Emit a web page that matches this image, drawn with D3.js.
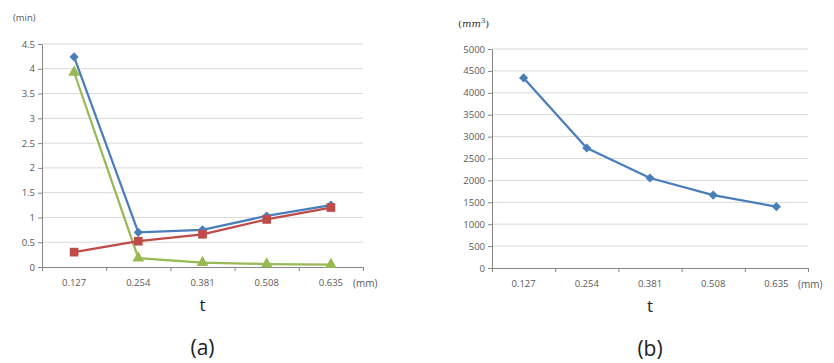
<!DOCTYPE html>
<html>
<head>
<meta charset="utf-8">
<script src="https://cdn.jsdelivr.net/npm/d3@7"></script>
<style>
  body { margin: 0; background: #fff; }
  text { font-family: "Open Sans", sans-serif; }
</style>
</head>
<body>
<div id="chart"></div>
<script>
/* Two Excel-style line charts: (a) time vs t, (b) volume vs t */

const categories = ["0.127", "0.254", "0.381", "0.508", "0.635"];

// chart (a), minutes
const blueA = [4.24, 0.70, 0.75, 1.03, 1.25];
const redA = [0.30, 0.52, 0.66, 0.96, 1.20];
const greenA = [3.93, 0.18, 0.09, 0.06, 0.05];
const ticksA = [0, 0.5, 1, 1.5, 2, 2.5, 3, 3.5, 4, 4.5];

// chart (b), mm^3
const blueB = [4340, 2740, 2055, 1665, 1400];
const ticksB = [0, 500, 1000, 1500, 2000, 2500, 3000, 3500, 4000, 4500, 5000];

const width = 834, height = 363;

const svg = d3.select("#chart")
    .append("svg")
    .attr("width", width)
    .attr("height", height);

function panel(opts) {
    const g = svg.append("g");

    let x = d3.scaleBand()
        .domain(categories)
        .range([opts.left, opts.right]);

    let edge = d3.scaleLinear() // band boundaries for tick marks
        .domain([0, categories.length])
        .range([opts.left, opts.right]);

    let y = d3.scaleLinear()
        .domain([0, d3.max(opts.ticks)])
        .range([opts.bottom, opts.top]);

    // gridlines
    g.append("g")
        .selectAll("line")
        .data(opts.ticks.filter(d => d > 0))
        .join("line")
        .attr("x1", opts.left)
        .attr("x2", opts.right)
        .attr("y1", d => y(d))
        .attr("y2", d => y(d))
        .attr("stroke", "#d9d9d9")
        .attr("stroke-width", 1);

    // y axis
    let ya = g.append("g")
        .attr("transform", `translate(${opts.left},0)`)
        .call(d3.axisLeft(y).tickValues(opts.ticks).tickFormat(d => String(d))
            .tickSize(4).tickSizeOuter(0).tickPadding(3));
    ya.select(".domain").attr("stroke", "#868686");
    ya.selectAll(".tick line").attr("stroke", "#868686");
    ya.selectAll(".tick text").attr("fill", "#595959").style("font-size", "9.5px");

    // x axis tick marks at band edges
    let xe = g.append("g")
        .attr("transform", `translate(0,${opts.bottom})`)
        .call(d3.axisBottom(edge).tickValues(d3.range(categories.length + 1)).tickFormat("").tickSize(4).tickSizeOuter(0));
    xe.select(".domain").attr("stroke", "#868686");
    xe.selectAll(".tick line").attr("stroke", "#868686");

    // x labels
    let xl = g.append("g")
        .attr("transform", `translate(0,${opts.bottom})`)
        .call(d3.axisBottom(x).tickSize(0).tickPadding(12));
    xl.select(".domain").remove();
    xl.selectAll(".tick text").attr("fill", "#595959").style("font-size", "9.5px");

    g.append("text")
        .attr("x", opts.right - 10)
        .attr("y", opts.bottom + 20)
        .attr("fill", "#595959")
        .style("font-size", "10px")
        .text("(mm)");

    const cx = (x(categories[2]) + x.bandwidth() / 2);
    g.append("text")
        .attr("x", cx)
        .attr("y", opts.bottom + 44)
        .attr("text-anchor", "middle")
        .attr("fill", "#222")
        .style("font-size", "17px")
        .text("t");

    g.append("text")
        .attr("x", cx)
        .attr("y", opts.bottom + 88)
        .attr("text-anchor", "middle")
        .attr("fill", "#222")
        .style("font-size", "21px")
        .text(opts.label);

    let line = d3.line()
        .x((d, i) => x(categories[i]) + x.bandwidth() / 2)
        .y(d => y(d));

    for (let s of opts.series) {
        g.append("path")
            .datum(s.values)
            .attr("fill", "none")
            .attr("stroke", s.color)
            .attr("stroke-width", 2.25)
            .attr("d", line);

        g.append("g")
            .selectAll("path")
            .data(s.values)
            .join("path")
            .attr("transform", (d, i) => `translate(${x(categories[i]) + x.bandwidth() / 2},${y(d)}) rotate(${s.rotate || 0})`)
            .attr("d", d3.symbol().type(s.symbol).size(s.size))
            .attr("fill", s.color);
    }
    return g;
}

let a = panel({
    left: 42, right: 363, top: 44, bottom: 267,
    ticks: ticksA, label: "(a)",
    series: [
        { values: greenA, color: "#98b954", symbol: d3.symbolTriangle, size: 60 },
        { values: blueA, color: "#4a7ebb", symbol: d3.symbolSquare, size: 42, rotate: 45 },
        { values: redA, color: "#be4b48", symbol: d3.symbolSquare, size: 75 }
    ]
});
a.append("text")
    .attr("x", 13).attr("y", 21)
    .attr("fill", "#595959")
    .style("font-size", "9.5px")
    .text("(min)");

let b = panel({
    left: 492, right: 808, top: 49, bottom: 268,
    ticks: ticksB, label: "(b)",
    series: [
        { values: blueB, color: "#4a7ebb", symbol: d3.symbolSquare, size: 42, rotate: 45 }
    ]
});
let unit = b.append("text")
    .attr("x", 458).attr("y", 27)
    .attr("fill", "#333")
    .style("font-family", "'DejaVu Serif', serif")
    .style("font-size", "10px");
unit.append("tspan").text("(");
unit.append("tspan").style("font-style", "italic").text("mm");
unit.append("tspan").attr("dy", -4).style("font-size", "7px").text("3");
unit.append("tspan").attr("dy", 4).text(")");
</script>
</body>
</html>
